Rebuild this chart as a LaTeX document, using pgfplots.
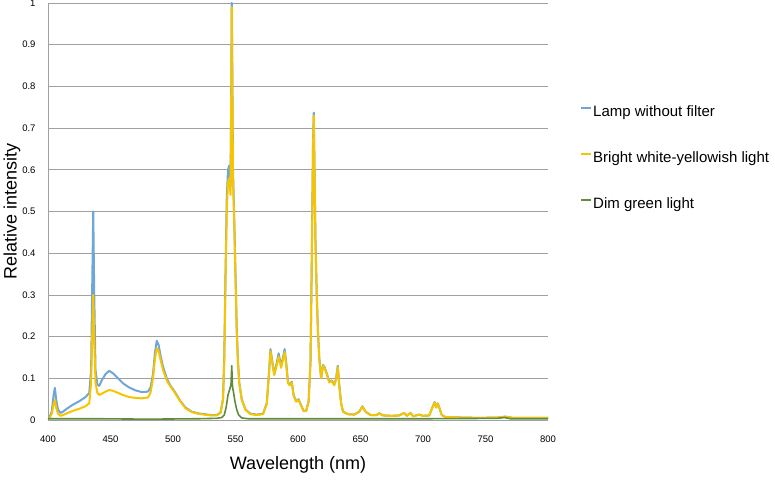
\documentclass[border=0pt]{standalone}
\usepackage{fontspec}
\setmainfont{Liberation Sans}
\setsansfont{Liberation Sans}
\usepackage{pgfplots}
\usepackage{pgfplotstable}
\pgfplotsset{compat=1.18}
\definecolor{lampblue}{RGB}{110,166,214}
\definecolor{brightyel}{RGB}{246,196,0}
\definecolor{dimgreen}{RGB}{96,140,62}
\definecolor{gridgray}{RGB}{160,160,160}

\pgfplotstableread{
x y
401 0.005
403 0.02
404.5 0.06
405.5 0.077
406.5 0.05
408 0.025
410 0.017
412 0.02
415 0.027
420 0.037
425 0.045
430 0.055
433 0.065
434.5 0.12
435.5 0.35
436.2 0.5
437 0.3
438 0.12
439.5 0.085
441 0.082
443 0.095
446 0.11
449 0.118
452 0.112
456 0.1
460 0.088
465 0.078
470 0.071
475 0.067
480 0.068
482 0.078
484 0.11
485.5 0.16
487 0.19
488.5 0.18
490 0.155
492 0.128
495 0.1
498 0.082
500 0.074
503 0.06
506 0.045
510 0.03
515 0.02
520 0.016
525 0.014
530 0.012
535 0.012
538 0.018
540 0.05
541 0.15
542 0.35
543 0.53
544 0.6
545 0.61
546 0.56
546.6 0.8
547 1.0
547.5 0.82
548 0.6
549 0.48
550 0.35
551 0.22
552 0.14
553 0.09
555 0.05
558 0.025
562 0.015
567 0.013
572 0.015
575 0.04
576.5 0.1
578 0.17
579.5 0.14
581 0.11
582.5 0.13
584.5 0.16
586.5 0.13
588 0.15
589.3 0.17
590.5 0.14
592 0.09
593.5 0.085
595 0.092
596.5 0.06
598.5 0.045
600.5 0.05
602.5 0.035
604.5 0.022
606.5 0.022
608.5 0.045
610 0.14
611 0.38
612 0.66
612.6 0.737
613.2 0.6
614 0.43
615 0.3
616 0.21
617 0.15
618.5 0.1
620 0.132
621.5 0.125
623 0.112
625 0.092
627 0.095
629 0.085
630.5 0.1
631.8 0.13
633 0.085
634.5 0.04
636 0.02
640 0.014
645 0.013
649 0.02
651.5 0.033
654 0.02
658 0.012
663 0.012
665 0.016
668 0.011
675 0.01
681 0.011
685 0.017
687 0.01
690 0.017
692 0.009
697 0.013
700 0.01
705 0.011
707.5 0.03
709.3 0.043
710.5 0.03
711.8 0.04
713 0.03
715 0.012
718 0.007
730 0.006
745 0.005
760 0.006
766 0.008
772 0.005
790 0.005
800 0.005
}\lamp

\pgfplotstableread{
x y
401 0.003
403 0.015
404.5 0.038
405.5 0.048
406.5 0.03
408 0.015
410 0.01
412 0.012
415 0.016
420 0.022
425 0.027
430 0.033
433 0.04
434.5 0.09
435.5 0.22
436.2 0.3
437 0.19
438 0.09
439.5 0.065
441 0.06
443 0.063
446 0.068
449 0.072
452 0.07
456 0.065
460 0.06
465 0.055
470 0.053
475 0.052
480 0.054
482 0.065
484 0.1
485.5 0.145
487 0.172
488.5 0.165
490 0.145
492 0.12
495 0.095
498 0.08
500 0.072
503 0.058
506 0.044
510 0.028
515 0.019
520 0.015
525 0.013
530 0.011
535 0.011
538 0.017
540 0.048
541 0.14
542 0.33
543 0.5
544 0.57
545 0.58
546 0.54
546.6 0.78
547 0.99
547.5 0.8
548 0.58
549 0.47
550 0.34
551 0.21
552 0.135
553 0.088
555 0.048
558 0.024
562 0.014
567 0.012
572 0.014
575 0.038
576.5 0.1
578 0.165
579.5 0.135
581 0.108
582.5 0.125
584.5 0.152
586.5 0.125
588 0.145
589.3 0.163
590.5 0.135
592 0.088
593.5 0.083
595 0.09
596.5 0.058
598.5 0.044
600.5 0.048
602.5 0.034
604.5 0.021
606.5 0.021
608.5 0.044
610 0.14
611 0.37
612 0.65
612.6 0.73
613.2 0.6
614 0.42
615 0.3
616 0.21
617 0.148
618.5 0.1
620 0.13
621.5 0.123
623 0.11
625 0.09
627 0.093
629 0.083
630.5 0.098
631.8 0.127
633 0.083
634.5 0.039
636 0.02
640 0.014
645 0.013
649 0.02
651.5 0.032
654 0.02
658 0.012
663 0.012
665 0.016
668 0.011
675 0.01
681 0.011
685 0.017
687 0.01
690 0.017
692 0.009
697 0.013
700 0.01
705 0.011
707.5 0.03
709.3 0.042
710.5 0.03
711.8 0.039
713 0.03
715 0.012
718 0.007
730 0.006
745 0.005
760 0.006
766 0.008
772 0.005
790 0.005
800 0.005
}\bright

\pgfplotstableread{
x y
400 0.003
440 0.003
480 0.002
520 0.003
535 0.004
539 0.006
541 0.012
542.5 0.03
544 0.06
545.5 0.075
546.4 0.085
547 0.13
547.6 0.08
548.5 0.065
549.5 0.045
551 0.025
552.5 0.012
555 0.005
560 0.003
600 0.003
650 0.003
700 0.003
760 0.004
765 0.006
770 0.003
800 0.003
}\dim

\begin{document}
\begin{tikzpicture}
\begin{axis}[
  name=ax,
  scale only axis,
  width=500pt, height=417pt,
  xmin=400, xmax=800, ymin=0, ymax=1,
  xtick={400,450,500,550,600,650,700,750,800},
  ytick={0,0.1,0.2,0.3,0.4,0.5,0.6,0.7,0.8,0.9,1},
  yticklabels={0,0.1,0.2,0.3,0.4,0.5,0.6,0.7,0.8,0.9,1},
  /pgf/number format/assume math mode=true,
  axis x line=bottom, axis y line=left,
  axis line style={draw=gridgray, line width=0.8pt, -},
  major tick length=0pt,
  ymajorgrids,
  grid style={draw=gridgray, line width=0.8pt},
  tick label style={font=\fontsize{9.5}{10}\selectfont},
  yticklabel style={xshift=-9pt},
  xticklabel style={yshift=-12pt},
  xlabel={Wavelength (nm)},
  ylabel={Relative intensity},
  label style={font=\fontsize{18}{20}\selectfont},
  xlabel style={at={(axis description cs:0.5,-0.108)}, anchor=center},
  ylabel style={at={(axis description cs:-0.072,0.5)}, anchor=center},
  legend cell align=left,
  legend image code/.code={\draw[#1, line width=2pt] (0pt,4pt) -- (10pt,4pt);},
  legend style={at={(axis description cs:1.064,0.628)}, anchor=west,
    draw=none, fill=none, inner sep=0pt, row sep=30pt,
    font=\fontsize{15}{18}\selectfont,
    nodes={inner sep=1pt, text height=11pt, text depth=3pt}},
]
\addplot[lampblue, line width=2pt, line join=round] table[x=x,y=y] {\lamp};
\addlegendentry{Lamp without filter}
\addplot[brightyel, line width=2pt, line join=round] table[x=x,y=y] {\bright};
\addlegendentry{Bright white-yellowish light}
\addplot[dimgreen, line width=1.6pt, line join=round] table[x=x,y=y] {\dim};
\addlegendentry{Dim green light}
\end{axis}
\pgfresetboundingbox
\path[use as bounding box] ([shift={(-48pt,-65pt)}]ax.south west) rectangle ([shift={(227pt,3pt)}]ax.north east);
\end{tikzpicture}
\end{document}
